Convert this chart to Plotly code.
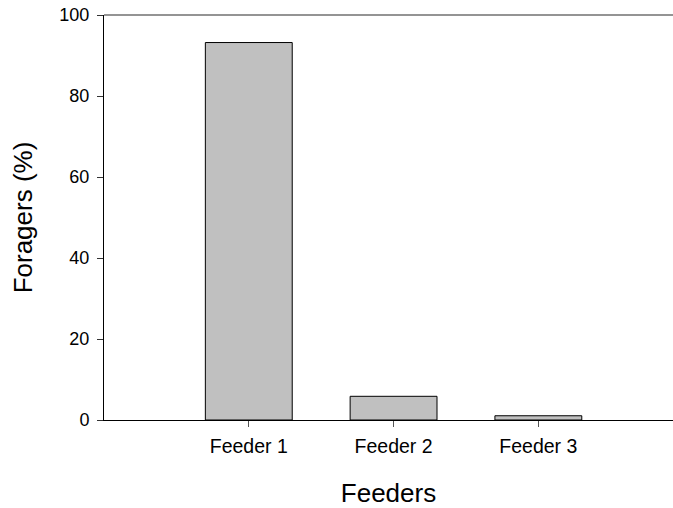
import plotly.graph_objects as go

categories = ["Feeder 1", "Feeder 2", "Feeder 3"]
positions = [1, 2, 3]
foragers_pct = [93.2, 5.85, 1.05]
y_ticks = [0, 20, 40, 60, 80, 100]

fig = go.Figure()
fig.add_trace(go.Bar(
    x=positions, y=foragers_pct, width=0.6,
    marker=dict(color="#c0c0c0", line=dict(color="#000000", width=1)),
    showlegend=False,
))

fig.update_layout(
    width=673, height=508,
    margin=dict(l=104, r=0, t=15, b=88),
    paper_bgcolor="white", plot_bgcolor="white",
    font=dict(family="Liberation Sans, Arial, sans-serif", color="#000000"),
    xaxis=dict(
        range=[0, 3.93], tickvals=positions, ticktext=categories,
        showgrid=False, zeroline=False,
        showline=True, linecolor="#000000", linewidth=1,
        ticks="outside", ticklen=6, tickcolor="#555555", tickwidth=1,
        tickfont=dict(size=19.5), ticklabelstandoff=3,
        title=dict(text="Feeders", font=dict(size=26), standoff=33),
    ),
    yaxis=dict(
        range=[0, 100], tickvals=y_ticks, automargin=False,
        showgrid=False, zeroline=False,
        showline=True, linecolor="#000000", linewidth=1,
        ticks="outside", ticklen=6, tickcolor="#333333", tickwidth=1,
        tickfont=dict(size=18), ticklabelstandoff=4, ticklabeloverflow="allow",
        title=dict(text="Foragers (%)", font=dict(size=26), standoff=19),
    ),
    shapes=[dict(type="line", xref="paper", yref="paper", x0=0, x1=1, y0=1, y1=1,
                 line=dict(color="#707070", width=1.5))],
)

# remove the page's default 8px body margin so the figure fills the window exactly
fig.write_html("out.html", config={"displayModeBar": False},
               post_script="document.body.style.margin='0px';")
